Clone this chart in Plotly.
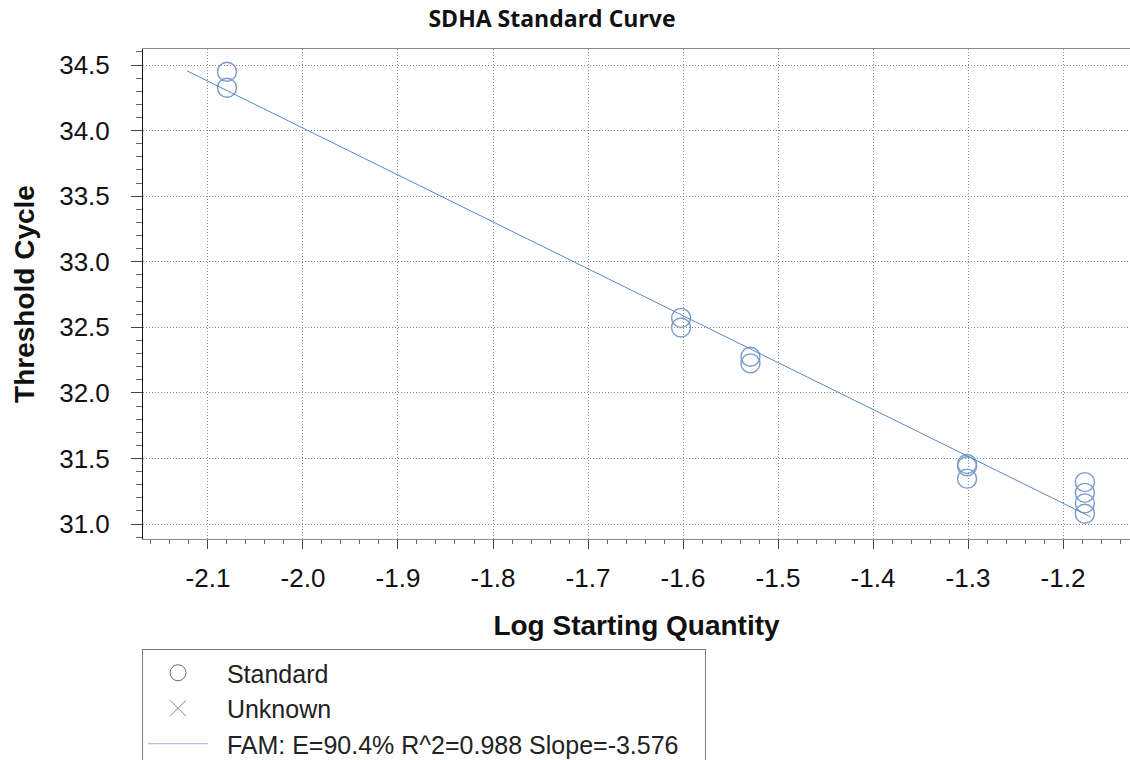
import plotly.graph_objects as go

# ---- data ----
std_x = [-2.080, -2.080, -1.602, -1.602, -1.529, -1.529,
         -1.301, -1.301, -1.301, -1.177, -1.177, -1.177, -1.177]
std_y = [34.449, 34.326, 32.572, 32.499, 32.276, 32.225,
         31.458, 31.441, 31.346, 31.320, 31.238, 31.158, 31.078]
fit_x = [-2.122, -1.171]
fit_y = [34.455, 31.055]

x_tickvals = [-2.1, -2.0, -1.9, -1.8, -1.7, -1.6, -1.5, -1.4, -1.3, -1.2]
x_ticktext = ["-2.1", "-2.0", "-1.9", "-1.8", "-1.7", "-1.6", "-1.5", "-1.4", "-1.3", "-1.2"]
y_tickvals = [31.0, 31.5, 32.0, 32.5, 33.0, 33.5, 34.0, 34.5]
y_ticktext = ["31.0", "31.5", "32.0", "32.5", "33.0", "33.5", "34.0", "34.5"]

title_text = "SDHA Standard Curve"
x_title = "Log Starting Quantity"
y_title = "Threshold Cycle"
legend_names = ["Standard", "Unknown", "FAM: E=90.4% R^2=0.988 Slope=-3.576"]

x_range = [-2.1684, -1.1295]
y_range = [30.886, 34.622]

FONT = "Liberation Sans, Arial, sans-serif"
MARKER_BLUE = "#7a9ccc"
LINE_BLUE = "#5d88c2"
PAD = "\u00a0\u00a0"

fig = go.Figure()

fig.add_trace(go.Scatter(
    x=std_x, y=std_y, mode="markers", showlegend=False,
    marker=dict(symbol="circle-open", size=19, color=MARKER_BLUE,
                line=dict(color=MARKER_BLUE, width=1.4)),
    hoverinfo="x+y"))

fig.add_trace(go.Scatter(
    x=fit_x, y=fit_y, mode="lines", showlegend=False,
    line=dict(color=LINE_BLUE, width=1)))

# legend entries
fig.add_trace(go.Scatter(
    x=[None], y=[None], mode="markers", name=PAD + legend_names[0], legendgroup="a",
    marker=dict(symbol="circle-open", size=16, color="#6a6a6a",
                line=dict(color="#6a6a6a", width=1))))
fig.add_trace(go.Scatter(
    x=[None], y=[None], mode="markers", name=PAD + legend_names[1], legendgroup="b",
    marker=dict(symbol="x-thin-open", size=16, color="#8a8a8a",
                line=dict(color="#8a8a8a", width=1))))
fig.add_trace(go.Scatter(
    x=[None], y=[None], mode="lines", name=PAD + legend_names[2] + PAD + "\u00a0",
    legendgroup="c", line=dict(color="#8fb0d8", width=1)))

grid = dict(showgrid=True, gridcolor="#8c8c8c", gridwidth=1, griddash="1px,2px")

fig.update_layout(
    width=1130, height=760,
    margin=dict(l=143, r=0, t=49, b=221, autoexpand=False),
    paper_bgcolor="white", plot_bgcolor="white",
    title=dict(text=title_text, x=552 / 1130, xanchor="center", xref="container",
               y=1 - 19 / 760, yanchor="middle", yref="container",
               font=dict(family="Open Sans, Noto Sans, sans-serif", size=23,
                         color="#111", weight="bold")),
    font=dict(family=FONT, color="#111"),
    xaxis=dict(range=x_range, tickmode="array", tickvals=x_tickvals, ticktext=x_ticktext,
               ticks="outside", ticklen=9, tickwidth=1, tickcolor="#444",
               showline=True, linecolor="#8a8a8a", linewidth=1, mirror=True,
               zeroline=False, tickfont=dict(family=FONT, size=26, color="#111"),
               ticklabelstandoff=7,
               minor=dict(dtick=0.02, tick0=-2.1, ticks="outside", ticklen=4,
                          tickcolor="#666", showgrid=False),
               title=dict(text=x_title, standoff=23,
                          font=dict(family=FONT, size=28, color="#111", weight="bold")),
               **grid),
    xaxis2=dict(range=x_range, overlaying="x", anchor="y", side="bottom",
                tickmode="array", tickvals=x_tickvals,
                ticks="inside", ticklen=10, tickcolor="#444",
                mirror="ticks", showline=False, showticklabels=False,
                showgrid=False, zeroline=False,
                minor=dict(dtick=0.02, tick0=-2.1, ticks="inside", ticklen=5,
                           tickcolor="#666", showgrid=False)),
    yaxis=dict(range=y_range, tickmode="array", tickvals=y_tickvals, ticktext=y_ticktext,
               ticks="outside", ticklen=11, tickwidth=1, tickcolor="#444",
               showline=True, linecolor="#111", linewidth=1, mirror=False,
               zeroline=False, tickfont=dict(family=FONT, size=26, color="#111"),
               ticklabelstandoff=16,
               minor=dict(dtick=0.1, tick0=31.0, ticks="outside", ticklen=6,
                          tickcolor="#666", showgrid=False),
               title=dict(text=y_title, standoff=16,
                          font=dict(family=FONT, size=28, color="#111", weight="bold")),
               **grid),
    yaxis2=dict(range=y_range, overlaying="y", anchor="x", side="left",
                tickmode="array", tickvals=y_tickvals,
                ticks="inside", ticklen=7, tickcolor="#444",
                mirror="ticks", showline=False, showticklabels=False,
                showgrid=False, zeroline=False,
                minor=dict(dtick=0.1, tick0=31.0, ticks="inside", ticklen=5,
                           tickcolor="#666", showgrid=False)),
    legend=dict(x=-0.001, xanchor="left", y=(539 - 649) / 490, yanchor="top",
                bordercolor="#7a7a7a", borderwidth=1, bgcolor="white",
                font=dict(family=FONT, size=25, color="#222"),
                itemwidth=60, tracegroupgap=3, traceorder="normal"),
    showlegend=True,
)

fig.write_html("out.html")
